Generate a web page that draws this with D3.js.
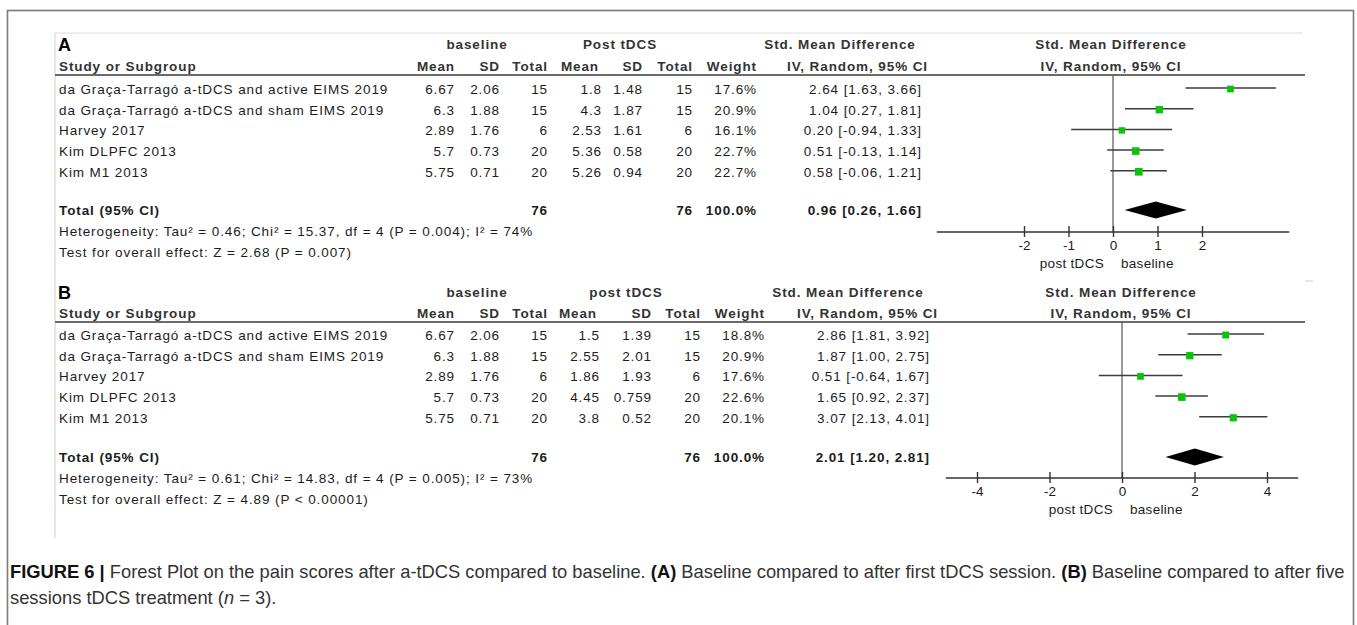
<!DOCTYPE html>
<html>
<head>
<meta charset="utf-8">
<script src="https://cdn.jsdelivr.net/npm/d3@7"></script>
<style>
  body { margin: 0; background: #fff; }
  svg { display: block; }
  text { font-family: "Liberation Sans", Arial, sans-serif; }
</style>
</head>
<body>
<svg id="fig" width="1357" height="625"></svg>
<script>
// ---- data ----
const studies = [
  "da Graça-Tarragó a-tDCS and active EIMS 2019",
  "da Graça-Tarragó a-tDCS and sham EIMS 2019",
  "Harvey 2017",
  "Kim DLPFC 2013",
  "Kim M1 2013"
];
const baselineMean = [6.67, 6.3, 2.89, 5.7, 5.75];
const baselineSD   = [2.06, 1.88, 1.76, 0.73, 0.71];
const baselineN    = [15, 15, 6, 20, 20];

// (A) after the first tDCS session
const postMeanA = [1.8, 4.3, 2.53, 5.36, 5.26];
const postSDA   = [1.48, 1.87, 1.61, 0.58, 0.94];
const postNA    = [15, 15, 6, 20, 20];
const weightA   = [17.6, 20.9, 16.1, 22.7, 22.7];
const smdA      = [2.64, 1.04, 0.20, 0.51, 0.58];
const lowerA    = [1.63, 0.27, -0.94, -0.13, -0.06];
const upperA    = [3.66, 1.81, 1.33, 1.14, 1.21];
const pooledA   = [0.96, 0.26, 1.66];   // estimate, lower, upper
const hetA  = "Heterogeneity: Tau\u00B2 = 0.46; Chi\u00B2 = 15.37, df = 4 (P = 0.004); I\u00B2 = 74%";
const testA = "Test for overall effect: Z = 2.68 (P = 0.007)";
const ticksA = [-2, -1, 0, 1, 2];

// (B) after five tDCS sessions
const postMeanB = [1.5, 2.55, 1.86, 4.45, 3.8];
const postSDB   = [1.39, 2.01, 1.93, 0.759, 0.52];
const postNB    = [15, 15, 6, 20, 20];
const weightB   = [18.8, 20.9, 17.6, 22.6, 20.1];
const smdB      = [2.86, 1.87, 0.51, 1.65, 3.07];
const lowerB    = [1.81, 1.00, -0.64, 0.92, 2.13];
const upperB    = [3.92, 2.75, 1.67, 2.37, 4.01];
const pooledB   = [2.01, 1.20, 2.81];
const hetB  = "Heterogeneity: Tau\u00B2 = 0.61; Chi\u00B2 = 14.83, df = 4 (P = 0.005); I\u00B2 = 73%";
const testB = "Test for overall effect: Z = 4.89 (P < 0.00001)";
const ticksB = [-4, -2, 0, 2, 4];

// ---- layout ----
const svg = d3.select("#fig");
const FS = 13.5, LS = 0.9;
const ink = "#1c1c1c";

const panels = [
  {
    label: "A", postLabel: "Post tDCS",
    postMean: postMeanA, postSD: postSDA, postN: postNA, weight: weightA,
    smd: smdA, lower: lowerA, upper: upperA, pooled: pooledA,
    het: hetA, test: testA, ticks: ticksA,
    y: { hdr1: 44, hdr2: 66, line: 75, row0: 88, step: 20.7, total: 210, axis: 232 },
    col: { name: 59, bMean: 455, bSD: 500, bN: 548, pMean: 602, pSD: 643, pN: 693, w: 757, ci: 922,
           ivHdr: 928, gBase: 477, gPost: 620, gSMD: 840, plotHdr: 1111 },
    scale: d3.scaleLinear().domain([-2, 2]).range([1024, 1202]),
    axisExtent: 3.96
  },
  {
    label: "B", postLabel: "post tDCS",
    postMean: postMeanB, postSD: postSDB, postN: postNB, weight: weightB,
    smd: smdB, lower: lowerB, upper: upperB, pooled: pooledB,
    het: hetB, test: testB, ticks: ticksB,
    y: { hdr1: 292, hdr2: 313, line: 322, row0: 334, step: 20.7, total: 457, axis: 478 },
    col: { name: 59, bMean: 455, bSD: 500, bN: 548, pMean: 600, pSD: 652, pN: 701, w: 765, ci: 930,
           ivHdr: 938, gBase: 477, gPost: 626, gSMD: 848, plotHdr: 1121 },
    scale: d3.scaleLinear().domain([-4, 4]).range([977, 1267]),
    axisExtent: 4.86
  }
];

// outer figure frame
svg.append("rect")
  .attr("x", 7.5).attr("y", 10.5).attr("width", 1346).attr("height", 640)
  .attr("fill", "none").attr("stroke", "#7a7a7a").attr("stroke-width", 1.6);

// forest-plot image edges
svg.append("line").attr("x1", 55).attr("x2", 55).attr("y1", 33).attr("y2", 538)
  .attr("stroke", "#cfcfcf").attr("stroke-width", 1);
svg.append("line").attr("x1", 55).attr("x2", 1303).attr("y1", 33).attr("y2", 33)
  .attr("stroke", "#dddddd").attr("stroke-width", 1);
svg.append("line").attr("x1", 1305).attr("x2", 1313).attr("y1", 281).attr("y2", 281)
  .attr("stroke", "#d0d0d0").attr("stroke-width", 1);

function txt(g, x, y, s, opts = {}) {
  return g.append("text")
    .attr("x", x).attr("y", y + 4.8)
    .attr("text-anchor", opts.anchor || "start")
    .attr("font-size", opts.size || FS)
    .attr("font-weight", opts.bold ? "bold" : "normal")
    .attr("letter-spacing", opts.ls === undefined ? LS : opts.ls)
    .attr("fill", opts.fill || ink)
    .text(s);
}

const fmt2 = d => d.toFixed(2);

panels.forEach(p => {
  const g = svg.append("g");
  const c = p.col, Y = p.y, x = p.scale;
  const rowY = i => Y.row0 + i * Y.step;

  // panel letter
  g.append("text").attr("x", 58).attr("y", Y.hdr1 + 7)
    .attr("font-size", 18).attr("font-weight", "bold").attr("fill", "#000").text(p.label);

  // header row 1
  txt(g, c.gBase, Y.hdr1, "baseline", { anchor: "middle", bold: true, fill: "#333" });
  txt(g, c.gPost, Y.hdr1, p.postLabel, { anchor: "middle", bold: true, fill: "#333" });
  txt(g, c.gSMD, Y.hdr1, "Std. Mean Difference", { anchor: "middle", bold: true, fill: "#333" });
  txt(g, c.plotHdr, Y.hdr1, "Std. Mean Difference", { anchor: "middle", bold: true, fill: "#333" });

  // header row 2
  txt(g, c.name, Y.hdr2, "Study or Subgroup", { bold: true, fill: "#333" });
  [["Mean", c.bMean], ["SD", c.bSD], ["Total", c.bN], ["Mean", c.pMean - 3],
   ["SD", c.pSD], ["Total", c.pN], ["Weight", c.w], ["IV, Random, 95% CI", c.ivHdr]]
    .forEach(([s, xx]) => txt(g, xx, Y.hdr2, s, { anchor: "end", bold: true, fill: "#333" }));
  txt(g, c.plotHdr, Y.hdr2, "IV, Random, 95% CI", { anchor: "middle", bold: true, fill: "#333" });

  // header rule
  g.append("line").attr("x1", 55).attr("x2", 1305).attr("y1", Y.line).attr("y2", Y.line)
    .attr("stroke", "#3a3a3a").attr("stroke-width", 1.6);

  // study rows
  studies.forEach((name, i) => {
    const y = rowY(i) + 1;
    txt(g, c.name, y, name);
    txt(g, c.bMean, y, String(baselineMean[i]), { anchor: "end" });
    txt(g, c.bSD, y, String(baselineSD[i]), { anchor: "end" });
    txt(g, c.bN, y, String(baselineN[i]), { anchor: "end" });
    txt(g, c.pMean, y, String(p.postMean[i]), { anchor: "end" });
    txt(g, c.pSD, y, String(p.postSD[i]), { anchor: "end" });
    txt(g, c.pN, y, String(p.postN[i]), { anchor: "end" });
    txt(g, c.w, y, p.weight[i].toFixed(1) + "%", { anchor: "end" });
    txt(g, c.ci, y, `${fmt2(p.smd[i])} [${fmt2(p.lower[i])}, ${fmt2(p.upper[i])}]`, { anchor: "end" });
  });

  // total row
  const tY = Y.total;
  txt(g, c.name, tY, "Total (95% CI)", { bold: true });
  txt(g, c.bN, tY, String(d3.sum(baselineN)), { anchor: "end", bold: true });
  txt(g, c.pN, tY, String(d3.sum(p.postN)), { anchor: "end", bold: true });
  txt(g, c.w, tY, d3.sum(p.weight).toFixed(1) + "%", { anchor: "end", bold: true });
  txt(g, c.ci, tY, `${fmt2(p.pooled[0])} [${fmt2(p.pooled[1])}, ${fmt2(p.pooled[2])}]`,
      { anchor: "end", bold: true });

  // heterogeneity / overall effect
  txt(g, c.name, Y.total + 21, p.het);
  txt(g, c.name, Y.total + 42, p.test);

  // line of no effect
  g.append("line").attr("x1", x(0)).attr("x2", x(0)).attr("y1", Y.line).attr("y2", Y.axis)
    .attr("stroke", "#555").attr("stroke-width", 1.2);

  // confidence intervals and weighted squares
  const side = d3.scaleSqrt().domain([0, 25]).range([0, 8]);
  studies.forEach((_, i) => {
    const y = rowY(i);
    g.append("line").attr("x1", x(p.lower[i])).attr("x2", x(p.upper[i]))
      .attr("y1", y).attr("y2", y).attr("stroke", "#3c3c3c").attr("stroke-width", 1.5);
    const s = side(p.weight[i]);
    g.append("rect").attr("x", x(p.smd[i]) - s / 2).attr("y", y - s / 2 + 1)
      .attr("width", s).attr("height", s).attr("fill", "#0ac40a");
  });

  // pooled diamond
  const [est, lo, hi] = p.pooled;
  g.append("path")
    .attr("d", `M${x(lo)},${tY} L${x(est)},${tY - 8.5} L${x(hi)},${tY} L${x(est)},${tY + 8.5} Z`)
    .attr("fill", "#000");

  // axis
  const ax = g.append("g").attr("transform", `translate(0,${Y.axis})`)
    .call(d3.axisBottom(x).tickValues(p.ticks).tickSize(5).tickFormat(d => String(d)));
  ax.select(".domain").remove();
  ax.selectAll(".tick line").attr("y1", -6).attr("y2", 5).attr("stroke", "#333").attr("stroke-width", 1.4);
  ax.selectAll(".tick text").attr("y", 8).attr("font-size", FS).attr("fill", ink)
    .attr("font-family", "Liberation Sans, Arial, sans-serif");
  g.append("line").attr("x1", x(-p.axisExtent)).attr("x2", x(p.axisExtent))
    .attr("y1", Y.axis).attr("y2", Y.axis).attr("stroke", "#333").attr("stroke-width", 1.6);

  // favours labels
  txt(g, x(0) - 9, Y.axis + 31, "post tDCS", { anchor: "end", ls: 0.3 });
  txt(g, x(0) + 8, Y.axis + 31, "baseline", { ls: 0.3 });
});

// ---- caption ----
const cap = svg.append("g").attr("fill", "#333").attr("font-size", 16);
const line1 = cap.append("text").attr("x", 10).attr("y", 578);
[["FIGURE 6 |", true], [" Forest Plot on the pain scores after a-tDCS compared to baseline. ", false],
 ["(A)", true], [" Baseline compared to after first tDCS session. ", false],
 ["(B)", true], [" Baseline compared to after five", false]]
  .forEach(([s, b]) => line1.append("tspan").attr("font-weight", b ? "bold" : "normal")
    .attr("fill", b ? "#111" : "#333").text(s));
const line2 = cap.append("text").attr("x", 10).attr("y", 604);
line2.append("tspan").text("sessions tDCS treatment (");
line2.append("tspan").attr("font-style", "italic").text("n");
line2.append("tspan").text(" = 3).");

// size the caption so its first line spans the figure width
const natural = line1.node().getComputedTextLength();
const capSize = 16 * 1335 / natural;
cap.attr("font-size", capSize);
</script>
</body>
</html>
